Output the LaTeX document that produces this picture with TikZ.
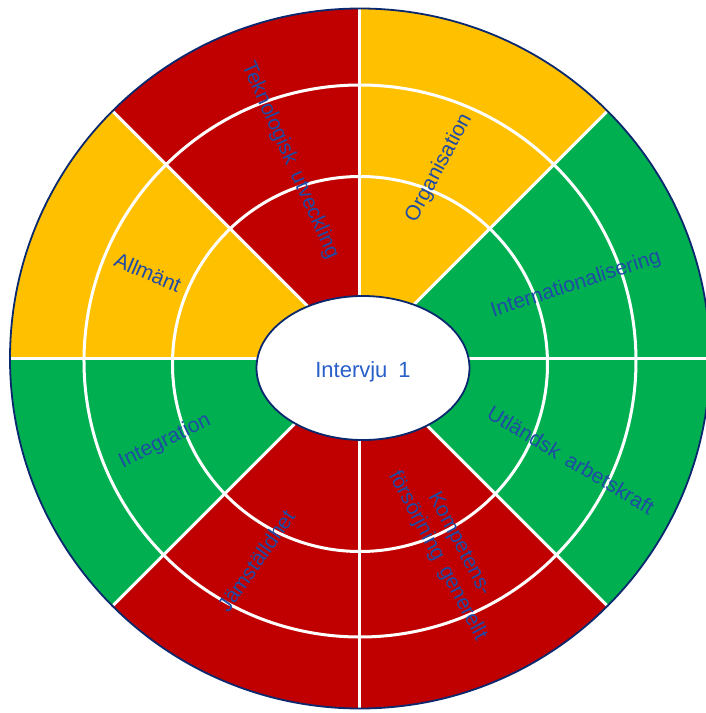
\documentclass[tikz,border=0pt]{standalone}
\usepackage{fontspec}
\setmainfont{Liberation Sans}
\usetikzlibrary{shapes.geometric}
\definecolor{cred}{RGB}{192,0,0}
\definecolor{cyel}{RGB}{255,192,0}
\definecolor{cgrn}{RGB}{0,176,80}
\definecolor{ctxt}{RGB}{31,75,165}
\definecolor{ctxtc}{RGB}{40,95,200}
\definecolor{cnavy}{RGB}{10,40,110}
\tikzset{
  lbl/.style={text=ctxt, font=\fontsize{21}{25}\selectfont, align=center, inner sep=0pt},
  sep/.style={draw=white, line width=3pt},
}
\begin{document}
\begin{tikzpicture}[x=1pt,y=1pt]
\useasboundingbox (-360,-354.5) rectangle (345,358.5);
% sectors
\foreach \a/\c in {0/cgrn,45/cyel,90/cred,135/cyel,180/cgrn,225/cred,270/cred,315/cgrn}{
  \fill[\c] (0,0) -- (\a:350) arc[start angle=\a, end angle=\a+45, radius=350] -- cycle;
}
% ring lines
\draw[sep] (0,-2.5) circle[radius=276];
\draw[sep] (0,-5.5) circle[radius=187.5];
% radial lines
\foreach \a in {0,45,...,315}{
  \draw[sep] (0,0) -- (\a:349);
}
% outer border
\draw[cnavy, line width=1.8pt] (0,0) circle[radius=350];
% centre
\node[ellipse, draw=cnavy, fill=white, line width=1.8pt, minimum width=213, minimum height=144, inner sep=0pt] (ctr) at (3,-9.5) {};
\node[text=ctxtc, font=\fontsize{22}{26}\selectfont] (ctrtxt) at (3,-13) {Intervju\hspace{0.5em}1};
% labels
\node[lbl, rotate=-66] (tek) at (-70,198) {Teknologisk\hspace{0.45em}utveckling};
\node[lbl, rotate=62] (org) at (79,190.5) {Organisation};
\node[lbl, rotate=18] (int) at (216,74) {Internationalisering};
\node[lbl, rotate=-31] (utl) at (211,-101.5) {Utländsk\hspace{0.45em}arbetskraft};
\node[lbl, rotate=26] (integ) at (-195,-83) {Integration};
\node[lbl, rotate=-23] (allm) at (-212,86) {Allmänt};
\node[lbl, rotate=55] (jam) at (-104,-202.5) {Jämställdhet};
\node[lbl, rotate=-62] (komp) at (88,-191.5) {Kompetens-\\försörjning\hspace{0.45em}generellt};
\end{tikzpicture}
\end{document}
